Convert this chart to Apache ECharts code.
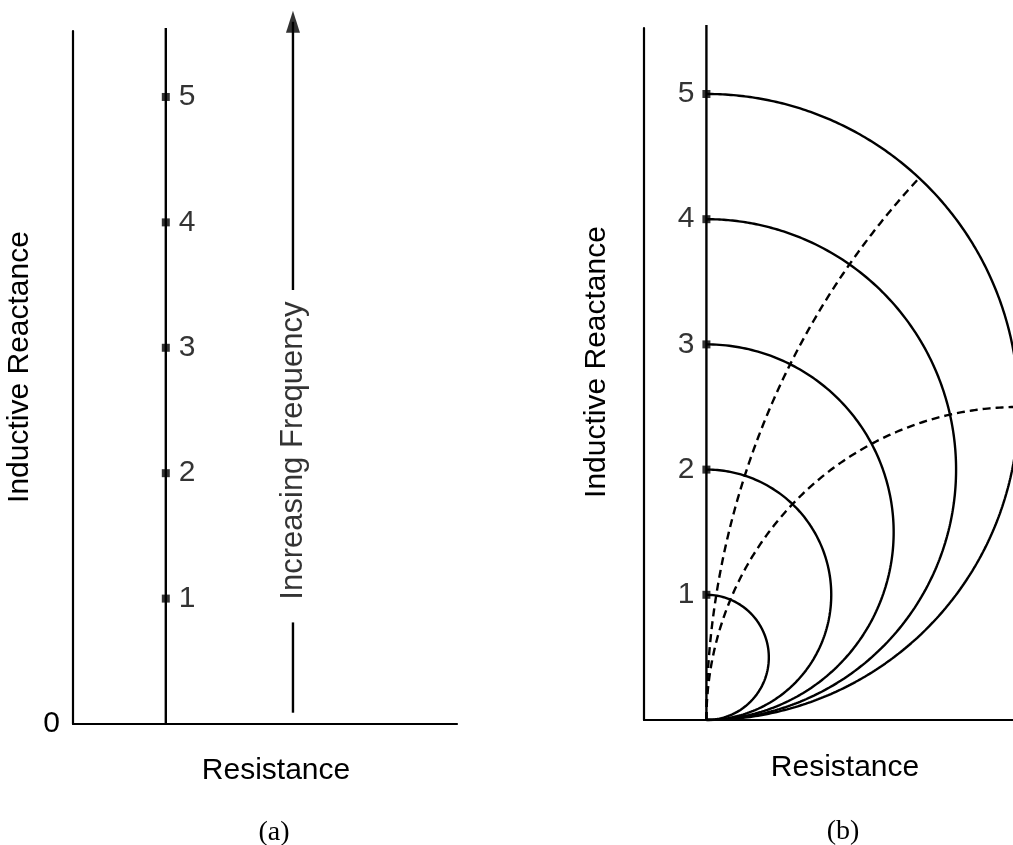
<!DOCTYPE html>
<html>
<head>
<meta charset="utf-8">
<script src="https://cdn.jsdelivr.net/npm/echarts@6/dist/echarts.min.js"></script>
<style>
html,body{margin:0;padding:0;background:#fff;}
#chart{width:1013px;height:845px;}
</style>
</head>
<body>
<div id="chart"></div>
<script>
// ---- data ----
const reactanceTicks = [1, 2, 3, 4, 5];          // marked reactance values
const panelAResistance = 0.74;                     // fixed resistance of panel (a) locus
const arrowX = 1.754;                              // resistance position of frequency arrow
const arrowLower = [0.09, 0.81];                   // lower arrow segment (reactance)
const arrowUpper = [3.46, 5.60];                   // upper arrow segment (reactance)
const arrowLabelY = 2.18;
const reactanceCircles = [1, 2, 3, 4, 5];          // constant-reactance loci (panel b)
const resistanceLoci = [5, 12.7];                  // constant-resistance loci (panel b)
const maxReactance = 5;

// ---- derived series data ----
function reactanceCircle(X) {
  // locus of R || jX as R varies 0..inf : circle with diameter 0..X on imaginary axis
  const pts = [];
  for (let i = 0; i <= 360; i++) {
    const t = -Math.PI / 2 + Math.PI * i / 360;
    pts.push([X / 2 * Math.cos(t), X / 2 + X / 2 * Math.sin(t)]);
  }
  return pts;
}
function resistanceLocus(R) {
  // locus of R || jX as X varies 0..maxReactance
  const pts = [];
  const n = 600;
  for (let i = 0; i <= n; i++) {
    const X = maxReactance * Math.pow(i / n, 1.5);
    const d = R * R + X * X;
    pts.push([R * X * X / d, R * R * X / d]);
  }
  return pts;
}

const black = '#000';
const font = "'Liberation Sans', Arial, Helvetica, sans-serif";
const serif = "'Liberation Serif', 'Times New Roman', serif";

const axisCommon = {
  type: 'value',
  axisLine: { show: true, onZero: false, lineStyle: { color: black, width: 2.2 } },
  axisTick: { show: false },
  splitLine: { show: false },
  axisLabel: { show: false }
};

const chart = echarts.init(document.getElementById('chart'), null, { renderer: 'canvas' });

const series = [];
const solid = { color: black, width: 2.4 };

// Panel (a): vertical locus
series.push({
  type: 'line', xAxisIndex: 0, yAxisIndex: 0, clip: false,
  data: [[panelAResistance, 0], [panelAResistance, 5.55]],
  showSymbol: false, lineStyle: solid, silent: true
});
series.push({
  type: 'scatter', xAxisIndex: 0, yAxisIndex: 0, clip: false,
  data: reactanceTicks.map(v => [panelAResistance, v]),
  symbol: 'rect', symbolSize: 8, itemStyle: { color: black },
  label: { show: true, position: 'right', distance: 9, formatter: p => String(p.value[1]),
           color: black, fontSize: 30, fontFamily: font }
});
// arrow
series.push({
  type: 'line', xAxisIndex: 0, yAxisIndex: 0, clip: false,
  data: [[arrowX, arrowLower[0]], [arrowX, arrowLower[1]]],
  showSymbol: false, lineStyle: solid
});
series.push({
  type: 'line', xAxisIndex: 0, yAxisIndex: 0, clip: false,
  data: [[arrowX, arrowUpper[0]], [arrowX, arrowUpper[1]]],
  showSymbol: false, lineStyle: solid
});
series.push({
  type: 'scatter', xAxisIndex: 0, yAxisIndex: 0, clip: false,
  data: [[arrowX, arrowUpper[1]]],
  symbol: 'triangle', symbolSize: [14, 22], itemStyle: { color: black }
});
series.push({
  type: 'scatter', xAxisIndex: 0, yAxisIndex: 0, clip: false,
  data: [[arrowX, arrowLabelY]], symbolSize: 0,
  label: { show: true, position: 'inside', rotate: 90, formatter: 'Increasing Frequency',
           color: black, fontSize: 31, fontFamily: font }
});

// Panel (b)
series.push({
  type: 'line', xAxisIndex: 1, yAxisIndex: 1, clip: false,
  data: [[0, 0], [0, 5.55]],
  showSymbol: false, lineStyle: solid
});
reactanceCircles.forEach(X => {
  series.push({
    type: 'line', xAxisIndex: 1, yAxisIndex: 1, clip: true,
    data: reactanceCircle(X), showSymbol: false,
    lineStyle: solid
  });
});
resistanceLoci.forEach(R => {
  series.push({
    type: 'line', xAxisIndex: 1, yAxisIndex: 1, clip: true,
    data: resistanceLocus(R), showSymbol: false,
    lineStyle: { color: black, width: 2.4, type: [8, 5] }
  });
});
series.push({
  type: 'scatter', xAxisIndex: 1, yAxisIndex: 1, clip: false,
  data: reactanceTicks.map(v => [0, v]),
  symbol: 'rect', symbolSize: 8, itemStyle: { color: black }, z: 5,
  label: { show: true, position: 'left', distance: 8, formatter: p => String(p.value[1]),
           color: black, fontSize: 30, fontFamily: font }
});

const option = {
  animation: false,
  backgroundColor: '#fff',
  grid: [
    { left: 73, top: 31, width: 384, height: 693 },
    { left: 644, top: 28, width: 369, height: 692 }
  ],
  xAxis: [
    Object.assign({}, axisCommon, { gridIndex: 0, min: 0, max: 3.062 }),
    Object.assign({}, axisCommon, { gridIndex: 1, min: -0.5, max: 2.456 })
  ],
  yAxis: [
    Object.assign({}, axisCommon, {
      gridIndex: 0, min: 0, max: 5.526, interval: 1,
      axisLabel: { show: true, margin: 13, color: black, fontSize: 30, fontFamily: font,
                   formatter: v => (v === 0 ? '0' : '') }
    }),
    Object.assign({}, axisCommon, { gridIndex: 1, min: 0, max: 5.527 })
  ],
  graphic: [
    { type: 'text', x: 20, y: 367, rotation: Math.PI / 2,
      style: { text: 'Inductive Reactance', font: '30px ' + font, fill: black, align: 'center', verticalAlign: 'middle' } },
    { type: 'text', x: 597, y: 362, rotation: Math.PI / 2,
      style: { text: 'Inductive Reactance', font: '30px ' + font, fill: black, align: 'center', verticalAlign: 'middle' } },
    { type: 'text', x: 276, y: 771,
      style: { text: 'Resistance', font: '30px ' + font, fill: black, align: 'center', verticalAlign: 'middle' } },
    { type: 'text', x: 845, y: 768,
      style: { text: 'Resistance', font: '30px ' + font, fill: black, align: 'center', verticalAlign: 'middle' } },
    { type: 'text', x: 274, y: 833,
      style: { text: '(a)', font: '28px ' + serif, fill: black, align: 'center', verticalAlign: 'middle' } },
    { type: 'text', x: 843, y: 832,
      style: { text: '(b)', font: '28px ' + serif, fill: black, align: 'center', verticalAlign: 'middle' } }
  ],
  series: series
};
chart.setOption(option);
</script>
</body>
</html>
